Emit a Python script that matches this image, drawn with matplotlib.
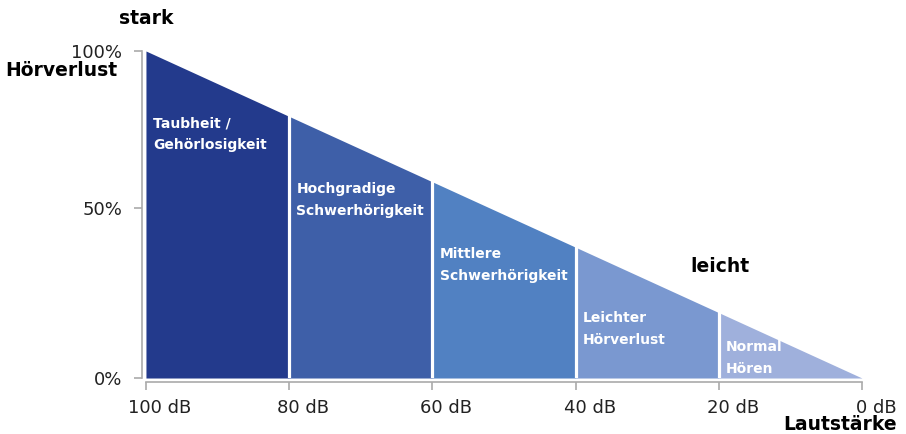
import matplotlib
matplotlib.use("Agg")
import matplotlib.pyplot as plt
import matplotlib.transforms as mtransforms

# Hörverlust-Stufen (dB-Grenzen und Verlust in %)
db_bounds = [100, 80, 60, 40, 20, 0]
loss_pct = [100, 80, 60, 40, 20, 0]
seg_labels = ["Taubheit /\nGehörlosigkeit",
              "Hochgradige\nSchwerhörigkeit",
              "Mittlere\nSchwerhörigkeit",
              "Leichter\nHörverlust",
              "Normal\nHören"]
seg_colors = ["#233a8c", "#3e5fa8", "#5181c2", "#7a98d0", "#9fb0dc"]
label_y = [80.0, 60.0, 40.0, 20.5, 11.5]

x_ticks = [100, 80, 60, 40, 20, 0]
x_ticklabels = ["100 dB", "80 dB", "60 dB", "40 dB", "20 dB", "0 dB"]
# the middle tick sits a little above half height in the original
y_ticks = [0, 52, 100]
y_ticklabels = ["0%", "50%", "100%"]

plt.rcParams['font.family'] = ['DejaVu Sans']

fig = plt.figure(figsize=(9.06, 4.34), dpi=100)
ax = fig.add_axes([0.1611, 0.129, 0.7903, 0.7535])

for i in range(len(seg_labels)):
    x0, x1 = db_bounds[i], db_bounds[i + 1]
    y0, y1 = loss_pct[i], loss_pct[i + 1]
    ax.fill_between([x0, x1], [y0, y1], 0, color=seg_colors[i], lw=0)
    ax.text(x0 - 1, label_y[i], seg_labels[i], color="white", fontsize=10,
            fontweight="bold", va="top", ha="left", linespacing=1.7)

# white gaps between the segments
for i in range(1, len(db_bounds) - 1):
    ax.plot([db_bounds[i], db_bounds[i]], [0, loss_pct[i] + 0.5], color="white", lw=2.3,
            solid_capstyle="butt")

ax.set_xlim(100, 0)
ax.set_ylim(0, 100)
ax.set_xticks(x_ticks)
ax.set_xticklabels(x_ticklabels)
ax.set_yticks(y_ticks)
ax.set_yticklabels(y_ticklabels)

for s in ["top", "right"]:
    ax.spines[s].set_visible(False)
for s in ["left", "bottom"]:
    ax.spines[s].set_position(("outward", 3))
    ax.spines[s].set_color("#aaaaaa")
    ax.spines[s].set_linewidth(1.2)
ax.tick_params(axis="both", colors="#aaaaaa", width=1.2, length=6, labelsize=13,
               labelcolor="#222222")
ax.tick_params(axis="y", pad=8)
ax.tick_params(axis="x", pad=6)

# x labels are shifted a bit to the right of their ticks
shift = mtransforms.ScaledTranslation(14 / 100, 0, fig.dpi_scale_trans)
for lbl in ax.get_xticklabels():
    lbl.set_transform(lbl.get_transform() + shift)

fig.text(146 / 906, 1 - 18 / 434, "stark", fontsize=13.5, fontweight="bold",
         ha="center", va="center")
fig.text(117 / 906, 1 - 70 / 434, "Hörverlust", fontsize=13.5, fontweight="bold",
         ha="right", va="center")
fig.text(720 / 906, 1 - 267 / 434, "leicht", fontsize=13.5, fontweight="bold",
         ha="center", va="center")
fig.text(897 / 906, 1 - 425 / 434, "Lautstärke", fontsize=13.5, fontweight="bold",
         ha="right", va="center")

fig.savefig("out.png", dpi=100)
